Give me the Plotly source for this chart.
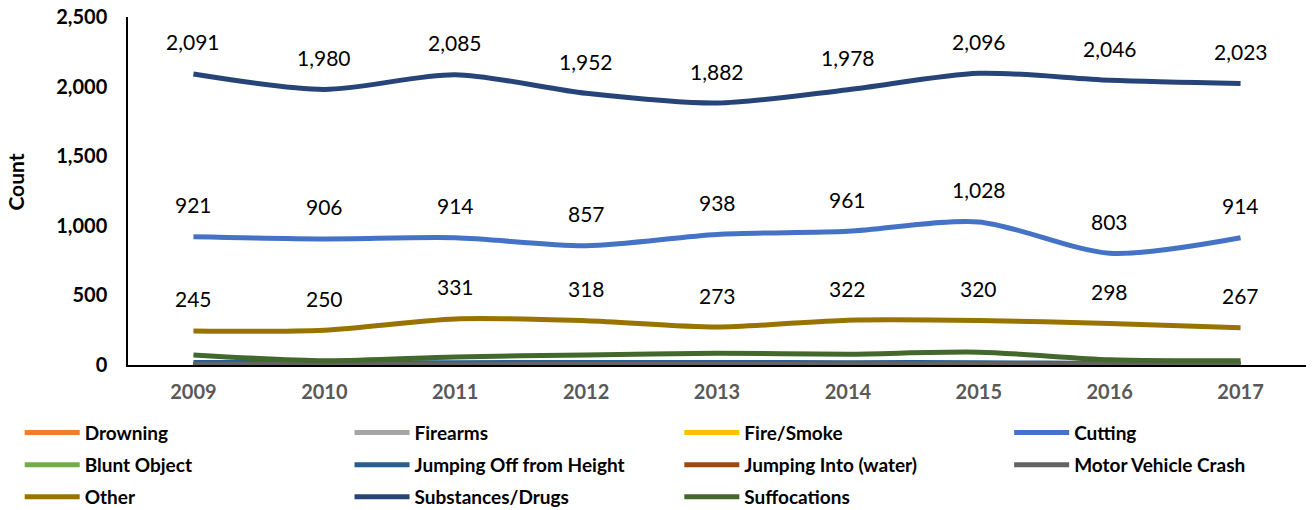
import plotly.graph_objects as go

years = ["2009", "2010", "2011", "2012", "2013", "2014", "2015", "2016", "2017"]

drowning = [4, 3, 3, 4, 3, 4, 5, 6, 5]
firearms = [2, 2, 2, 2, 2, 2, 2, 2, 2]
fire_smoke = [1, 1, 1, 1, 1, 1, 1, 1, 1]
cutting = [921, 906, 914, 857, 938, 961, 1028, 803, 914]
blunt_object = [3, 2, 3, 3, 2, 3, 3, 2, 2]
jumping_off = [18, 16, 17, 18, 18, 17, 17, 10, 8]
jumping_into = [4, 4, 4, 5, 5, 6, 8, 7, 6]
motor_vehicle = [5, 5, 5, 5, 5, 5, 5, 5, 5]
other = [245, 250, 331, 318, 273, 322, 320, 298, 267]
substances = [2091, 1980, 2085, 1952, 1882, 1978, 2096, 2046, 2023]
suffocations = [72, 30, 58, 72, 84, 78, 92, 38, 30]

# (name, values, colour, legend column)
series = [
    ("Drowning", drowning, "#ED7D31", "legend"),
    ("Firearms", firearms, "#A5A5A5", "legend2"),
    ("Fire/Smoke", fire_smoke, "#FFC000", "legend3"),
    ("Cutting", cutting, "#4472C4", "legend4"),
    ("Blunt Object", blunt_object, "#70AD47", "legend"),
    ("Jumping Off from Height", jumping_off, "#255E91", "legend2"),
    ("Jumping Into (water)", jumping_into, "#9E480E", "legend3"),
    ("Motor Vehicle Crash", motor_vehicle, "#636363", "legend4"),
    ("Other", other, "#997300", "legend"),
    ("Substances/Drugs", substances, "#264478", "legend2"),
    ("Suffocations", suffocations, "#43682B", "legend3"),
]
labelled = ["Cutting", "Other", "Substances/Drugs"]

FONT = "Lato"

fig = go.Figure()
for name, vals, color, leg in series:
    fig.add_trace(go.Scatter(
        x=years, y=vals, name=name, mode="lines", legend=leg, legendgroup=name,
        line=dict(color=color, width=5, shape="spline", smoothing=0.8),
    ))

annotations = []
for name, vals, color, leg in series:
    if name in labelled:
        for i, v in enumerate(vals):
            annotations.append(dict(
                x=i, y=v, text=f"{v:,}", showarrow=False, yshift=32,
                font=dict(family=FONT, size=21, color="#000000"),
            ))
annotations.append(dict(
    text="Count", xref="paper", yref="paper", x=-0.108, y=0.525, textangle=-90,
    showarrow=False, font=dict(family=FONT, size=21, color="#000000", weight="bold"),
))

legend_font = dict(family=FONT, size=19, color="#000000", weight="bold")
def legend_at(x):
    return dict(
        orientation="v", xref="container", yref="container",
        x=x, xanchor="left", y=0.189, yanchor="top",
        itemwidth=55, tracegroupgap=4.5,
        font=legend_font, bgcolor="rgba(0,0,0,0)",
    )

fig.update_layout(
    width=1314, height=510,
    margin=dict(l=128, r=8, t=17, b=145, autoexpand=False),
    paper_bgcolor="white", plot_bgcolor="white",
    font=dict(family=FONT, color="#000000"),
    showlegend=True,
    legend=legend_at(0.015),
    legend2=legend_at(0.266),
    legend3=legend_at(0.517),
    legend4=legend_at(0.768),
    annotations=annotations,
    xaxis=dict(
        type="category", range=[-0.5, len(years) - 0.5],
        showgrid=False, showline=True, linecolor="#000000", linewidth=2,
        ticks="", ticklabelstandoff=8,
        tickfont=dict(family=FONT, size=20, color="#595959", weight="bold"),
    ),
    yaxis=dict(
        range=[0, 2500], dtick=500, tickformat=",", showgrid=False, zeroline=False,
        showline=True, linecolor="#000000", linewidth=1.5, ticks="", ticklabelstandoff=15,
        tickfont=dict(family=FONT, size=20, color="#000000", weight="bold"),
    ),
)

fig.write_html("out.html", config={"displayModeBar": False},
               post_script="document.body.style.margin='0';")
